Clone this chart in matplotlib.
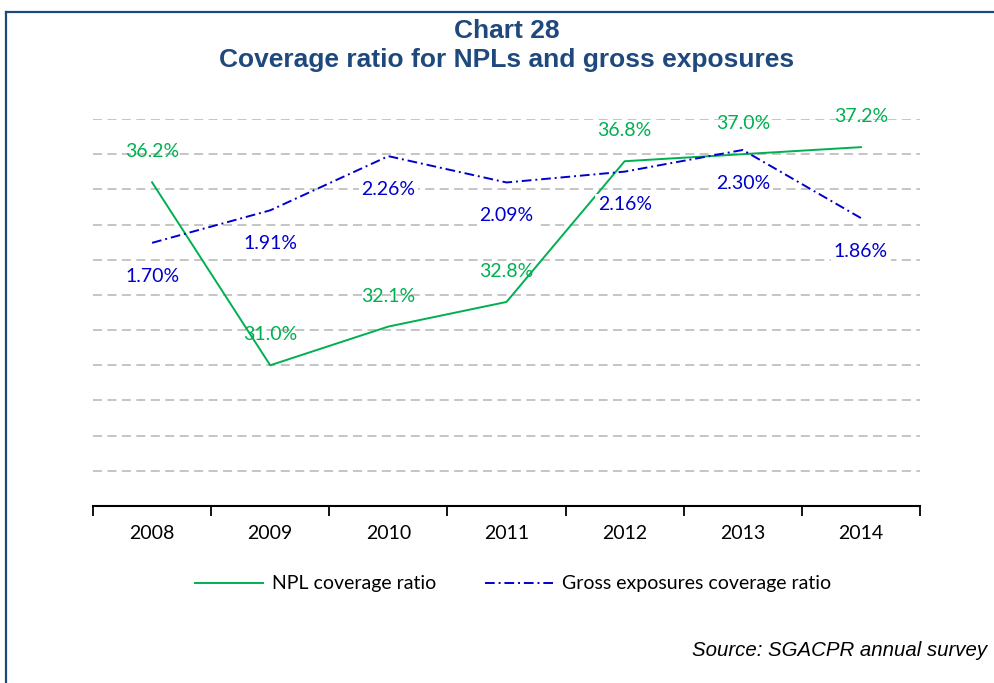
import matplotlib.pyplot as plt
from matplotlib.lines import Line2D

years = ['2008', '2009', '2010', '2011', '2012', '2013', '2014']
npl = [36.2, 31.0, 32.1, 32.8, 36.8, 37.0, 37.2]
gross = [1.70, 1.91, 2.26, 2.09, 2.16, 2.30, 1.86]

W, H = 995, 683
green = '#00B050'
blue = '#0000CD'
navy = '#1F497D'
lbl_font = 'Lato'
fs = 14

fig = plt.figure(figsize=(W / 100, H / 100), dpi=100)
ax = fig.add_axes([93 / W, 1 - 506 / H, 827 / W, 387 / H])
ax2 = ax.twinx()

x = list(range(len(years)))

# gridlines from the primary axis
ax.set_ylim(27, 38)
ax.set_yticks(range(28, 39))
ax.yaxis.grid(True, color='#C0C0C0', linestyle=(0, (5, 3)), linewidth=1.3)
ax.set_axisbelow(True)
ax2.set_ylim(0, 2.5)

for a in (ax, ax2):
    for s in ('top', 'left', 'right'):
        a.spines[s].set_visible(False)
    a.tick_params(axis='y', left=False, right=False, labelleft=False, labelright=False)
ax2.spines['bottom'].set_visible(False)
ax.spines['bottom'].set_linewidth(1.5)

ax.set_xlim(-0.5, len(years) - 0.5)
ax.set_xticks(x)
ax.set_xticklabels(years, fontfamily=lbl_font, fontsize=fs)
ax.set_xticks([i - 0.5 for i in range(len(years) + 1)], minor=True)
ax.tick_params(axis='x', which='major', length=0, pad=14)
ax.tick_params(axis='x', which='minor', length=7, width=1.3, direction='out')

l1, = ax.plot(x, npl, color=green, linewidth=1.4, label='NPL coverage ratio')
l2, = ax2.plot(x, gross, color=blue, linewidth=1.4, linestyle=(0, (5, 2, 1, 2)),
               label='Gross exposures coverage ratio')

for xi, v in zip(x, npl):
    ax.annotate(f'{v:.1f}%', (xi, v), xytext=(0, 22), textcoords='offset points',
                ha='center', va='center', color=green, fontfamily=lbl_font, fontsize=fs)
for xi, v in zip(x, gross):
    ax2.annotate(f'{v:.2f}%', (xi, v), xytext=(0, -24), textcoords='offset points',
                 ha='center', va='center', color=blue, fontfamily=lbl_font, fontsize=fs,
                 bbox=dict(facecolor='white', edgecolor='none', pad=2), zorder=5)

fig.legend([l1, l2], [l1.get_label(), l2.get_label()], loc='center',
           bbox_to_anchor=(513 / W, 1 - 584 / H), ncol=2, frameon=False,
           handlelength=3.5, handletextpad=0.45, columnspacing=2.5,
           prop={'family': lbl_font, 'size': fs})

fig.text(507 / W, 1 - 38 / H, 'Chart 28', ha='center', va='baseline',
         fontfamily='Liberation Sans', fontweight='bold', fontsize=19, color=navy)
fig.text(507 / W, 1 - 67 / H, 'Coverage ratio for NPLs and gross exposures', ha='center',
         va='baseline', fontfamily='Liberation Sans', fontweight='bold', fontsize=19, color=navy)

fig.text(692 / W, 1 - 650 / H, 'Source: SGACPR annual survey', ha='left', va='center',
         fontfamily='Liberation Sans', style='italic', fontsize=14.7, color='black')

# frame around the chart
fig.add_artist(Line2D([6 / W, 6 / W], [0, 1 - 12 / H], color=navy, linewidth=1.6))
fig.add_artist(Line2D([6 / W, 1], [1 - 12 / H, 1 - 12 / H], color=navy, linewidth=1.6))

fig.savefig('out.png', dpi=100)
